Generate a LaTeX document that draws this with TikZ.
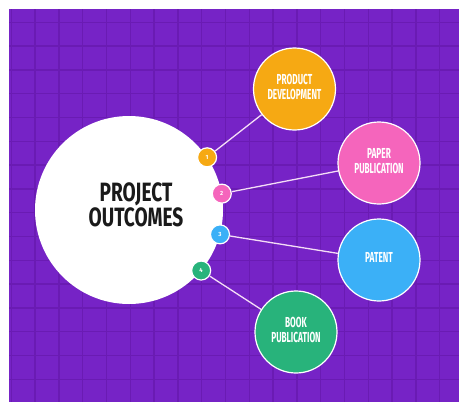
\documentclass[tikz,border=0pt]{standalone}
\usepackage{fontspec}
\usepackage{graphicx}
\setmainfont{Fira Sans}
\definecolor{bgpurple}{HTML}{7623C6}
\definecolor{gridpurple}{HTML}{6A1BB3}
\definecolor{cOrange}{HTML}{F6A913}
\definecolor{cPink}{HTML}{F565BC}
\definecolor{cBlue}{HTML}{3BB0F7}
\definecolor{cGreen}{HTML}{28B37B}
\definecolor{cLine}{HTML}{F4DDF6}
\definecolor{cTitle}{HTML}{1A1A1A}
\newcommand\condtext[2]{\scalebox{#1}[1]{\begin{tabular}{@{}c@{}}#2\end{tabular}}}
\tikzset{
  gridline/.style={draw=gridpurple, line width=1.3pt},
  hub/.style={circle, fill=white, inner sep=0pt, minimum size=188pt},
  titletext/.style={text=cTitle, font=\fontsize{26.5}{23}\selectfont\bfseries, inner sep=0pt},
  numdot/.style={circle, draw=white, line width=1.2pt, inner sep=0pt, minimum size=19pt,
    text=white, font=\fontsize{6}{6}\selectfont\bfseries},
  outcome/.style={circle, draw=white, line width=1.2pt, inner sep=0pt, minimum size=82pt,
    text=white, font=\fontsize{14.5}{14}\selectfont\bfseries},
  conn/.style={draw=cLine, line width=1.3pt}
}
\begin{document}
\begin{tikzpicture}[x=1pt,y=-1pt]
\useasboundingbox (0,0) rectangle (459,402);
\fill[white] (0,0) rectangle (459,402);
\fill[bgpurple] (9,9) rectangle (459,402);
\begin{scope}
  \clip (9,9) rectangle (459,402);
  \foreach \i in {0,...,19} { \draw[gridline] ({11.3+23.8*\i},9) -- ({11.3+23.8*\i},402); }
  \foreach \j in {1,...,17} { \draw[gridline] (9,{-1.5+23.8*\j}) -- (459,{-1.5+23.8*\j}); }
\end{scope}

\node[hub] (main) at (129,210) {};
\node[titletext] (title) at (136,208) {\condtext{0.72}{PROJECT\\OUTCOMES}};

\node[outcome, fill=cOrange] (pd) at (294.5,89) {\condtext{0.57}{PRODUCT\\DEVELOPMENT}};
\node[outcome, fill=cPink]   (pp) at (379,163) {\condtext{0.57}{PAPER\\PUBLICATION}};
\node[outcome, fill=cBlue]   (pt) at (379,260) {\condtext{0.57}{PATENT}};
\node[outcome, fill=cGreen]  (bp) at (296,332) {\condtext{0.57}{BOOK\\PUBLICATION}};

\node[numdot, fill=cOrange] (n1) at (main.34) {1};
\node[numdot, fill=cPink]   (n2) at (main.10) {2};
\node[numdot, fill=cBlue]   (n3) at (main.-15) {3};
\node[numdot, fill=cGreen]  (n4) at (main.-40) {4};

\draw[conn] (n1) -- (pd);
\draw[conn] (n2) -- (pp);
\draw[conn] (n3) -- (pt);
\draw[conn] (n4) -- (bp);
\end{tikzpicture}
\end{document}
